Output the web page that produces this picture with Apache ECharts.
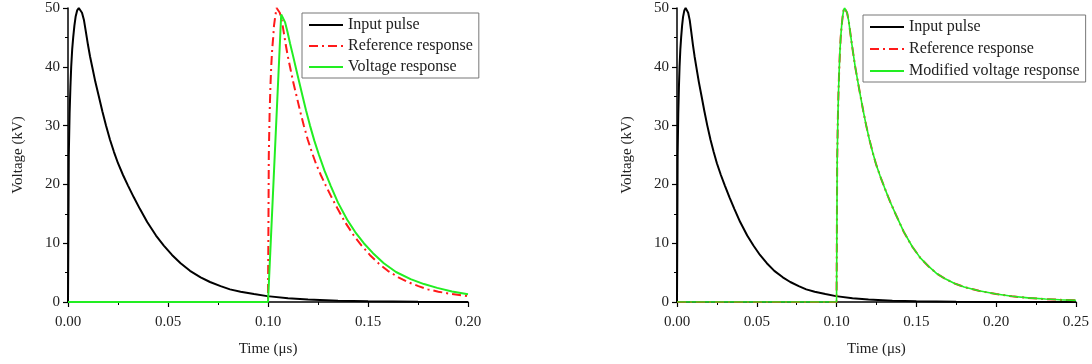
<!DOCTYPE html>
<html>
<head>
<meta charset="utf-8">
<script src="https://cdn.jsdelivr.net/npm/echarts@6/dist/echarts.min.js"></script>
<style>
  html, body { margin: 0; padding: 0; background: #fff; }
  #chart { width: 1092px; height: 364px; }
</style>
</head>
<body>
<div id="chart"></div>
<script>
// input pulse (both panels), time in us, voltage in kV
const inputT = [0, 0.0002, 0.0004, 0.0008, 0.0012, 0.0016, 0.0021, 0.0026, 0.0032, 0.0038, 0.0046, 0.0054, 0.0062, 0.0070, 0.0080, 0.0090, 0.0100, 0.0110, 0.0121, 0.0137, 0.0154, 0.0172, 0.0190, 0.0210, 0.0230, 0.0250, 0.0275, 0.0300, 0.0329, 0.0360, 0.0396, 0.0440, 0.0479, 0.0520, 0.0563, 0.0610, 0.0663, 0.0710, 0.0763, 0.0810, 0.0863, 0.0930, 0.0996, 0.110, 0.120, 0.135, 0.150, 0.175, 0.200, 0.225, 0.250];
const inputV = [0, 12, 25, 32, 36.5, 40, 43, 45, 47, 48.5, 49.6, 50, 49.8, 49.2, 47.9, 45.8, 43.7, 41.8, 40, 37.4, 35, 32.4, 30, 27.6, 25.5, 23.6, 21.6, 19.8, 17.8, 15.8, 13.6, 11.3, 9.6, 8.0, 6.6, 5.3, 4.2, 3.4, 2.7, 2.15, 1.75, 1.35, 1.0, 0.63, 0.41, 0.21, 0.11, 0.04, 0.015, 0.005, 0];

// left panel: reference response
const refT = [0, 0.1, 0.1002, 0.1004, 0.1008, 0.1012, 0.1016, 0.1021, 0.1026, 0.1030, 0.1036, 0.1043, 0.1051, 0.1059, 0.1069, 0.1079, 0.1089, 0.1099, 0.1110, 0.1126, 0.1143, 0.1161, 0.1179, 0.1199, 0.1219, 0.1239, 0.1264, 0.1289, 0.1318, 0.1349, 0.1385, 0.1429, 0.1468, 0.1509, 0.1552, 0.1599, 0.1652, 0.1699, 0.1752, 0.1799, 0.1852, 0.1919, 0.2];
const refV = [0, 0, 12, 25, 32, 36.5, 40, 43, 45, 47, 48.5, 50, 49.8, 49.2, 47.9, 45.8, 43.7, 41.8, 40, 37.4, 35, 32.4, 30, 27.6, 25.5, 23.6, 21.6, 19.8, 17.8, 15.8, 13.6, 11.3, 9.6, 8.0, 6.6, 5.3, 4.2, 3.4, 2.7, 2.15, 1.75, 1.35, 1.0];

// left panel: voltage response
const voltT = [0, 0.1, 0.1066, 0.1075, 0.1085, 0.1097, 0.1110, 0.1125, 0.1140, 0.1156, 0.1173, 0.1190, 0.1210, 0.1232, 0.1255, 0.1283, 0.1313, 0.1350, 0.1396, 0.1436, 0.1479, 0.1525, 0.1579, 0.1640, 0.1713, 0.1780, 0.1846, 0.1920, 0.2];
const voltV = [0, 0, 48.9, 48.6, 47.6, 46, 44, 41.9, 39.7, 37.4, 35, 32.6, 30, 27.4, 25, 22.3, 19.8, 16.9, 14.0, 11.9, 10.0, 8.3, 6.6, 5.1, 3.9, 3.05, 2.4, 1.8, 1.3];

// right panel: reference and modified voltage response (overlapping)
const modT = [0, 0.1, 0.1002, 0.1004, 0.1008, 0.1012, 0.1016, 0.1021, 0.1026, 0.1032, 0.1038, 0.1044, 0.1050, 0.1058, 0.1066, 0.1076, 0.1086, 0.1096, 0.1106, 0.1117, 0.1134, 0.1150, 0.1168, 0.1186, 0.1206, 0.1226, 0.1248, 0.1272, 0.1300, 0.1335, 0.1371, 0.1420, 0.1475, 0.1525, 0.1579, 0.1630, 0.1684, 0.1740, 0.1800, 0.1892, 0.2000, 0.2100, 0.2200, 0.2309, 0.2400, 0.2500];
const modV = [0, 0, 12, 24, 31, 35.5, 39, 42.5, 45, 47, 48.5, 49.6, 50, 49.8, 49.2, 47.8, 45.8, 43.8, 42, 40, 37.4, 35, 32.4, 30, 27.6, 25.5, 23.4, 21.5, 19.5, 17.1, 14.9, 12.0, 9.4, 7.5, 6.0, 4.8, 3.9, 3.15, 2.55, 1.9, 1.35, 0.97, 0.7, 0.5, 0.37, 0.28];

const xRangeLeft = [0, 0.2];
const xRangeRight = [0, 0.25];

const pairs = (t, v) => t.map((x, i) => [x, v[i]]);
const upTo = (t, v, tMax) => pairs(t, v).filter(p => p[0] <= tMax);

const font = 'Liberation Serif';
const txt = '#222';

const chart = echarts.init(document.getElementById('chart'));

const xAxisBase = (gridIndex, range) => ({
  type: 'value',
  gridIndex: gridIndex,
  min: range[0],
  max: range[1],
  interval: 0.05,
  name: 'Time (\u03bcs)',
  nameLocation: 'middle',
  nameGap: 40,
  nameTextStyle: { fontFamily: font, fontSize: 15, color: txt },
  axisLine: { onZero: false, lineStyle: { color: '#000', width: 1.5 } },
  axisTick: { inside: false, length: 5, lineStyle: { color: '#000', width: 1.2 } },
  minorTick: { show: true, splitNumber: 2, length: 3, lineStyle: { color: '#000', width: 1 } },
  axisLabel: {
    margin: 13,
    fontFamily: font, fontSize: 15, color: txt,
    formatter: v => v.toFixed(2)
  },
  splitLine: { show: false }
});

const yAxisBase = (gridIndex) => ({
  type: 'value',
  gridIndex: gridIndex,
  min: 0,
  max: 50,
  interval: 10,
  name: 'Voltage (kV)',
  nameLocation: 'middle',
  nameGap: 42,
  nameTextStyle: { fontFamily: font, fontSize: 15, color: txt },
  axisLine: { show: true, lineStyle: { color: '#000', width: 1.5 } },
  axisTick: { show: true, inside: false, length: 5, lineStyle: { color: '#000', width: 1.2 } },
  minorTick: { show: true, splitNumber: 2, length: 3, lineStyle: { color: '#000', width: 1 } },
  axisLabel: { margin: 8, fontFamily: font, fontSize: 15, color: txt },
  splitLine: { show: false }
});

const lineSeries = (name, data, idx, color, type, width) => ({
  name: name,
  type: 'line',
  xAxisIndex: idx,
  yAxisIndex: idx,
  data: data,
  showSymbol: false,
  symbol: 'none',
  animation: false,
  lineStyle: { color: color, width: width, type: type },
  itemStyle: { color: color }
});

const legendBase = (left, top, names, gap) => ({
  orient: 'vertical',
  left: left,
  top: top,
  data: names,
  itemWidth: 34,
  itemHeight: 14,
  itemGap: gap,
  padding: [4, 6, 3, 6],
  borderColor: '#777',
  borderWidth: 1,
  itemStyle: { opacity: 0 },
  textStyle: { fontFamily: font, fontSize: 16, lineHeight: 14, color: txt }
});

chart.setOption({
  animation: false,
  grid: [
    { left: 68, top: 8, width: 400, height: 294 },
    { left: 677, top: 8, width: 400, height: 294 }
  ],
  xAxis: [xAxisBase(0, xRangeLeft), xAxisBase(1, xRangeRight)],
  yAxis: [yAxisBase(0), yAxisBase(1)],
  legend: [
    legendBase(302, 13, ['Input pulse', 'Reference response', 'Voltage response'], 5),
    legendBase(863, 15, ['Input pulse', 'Reference response', 'Modified voltage response'], 6)
  ],
  series: [
    lineSeries('Input pulse', upTo(inputT, inputV, xRangeLeft[1]), 0, '#000', 'solid', 2),
    lineSeries('Reference response', pairs(refT, refV), 0, '#ff1a1a', [9, 4, 2, 4], 2),
    lineSeries('Voltage response', pairs(voltT, voltV), 0, '#22ee22', 'solid', 2),
    lineSeries('Input pulse', pairs(inputT, inputV), 1, '#000', 'solid', 2),
    lineSeries('Reference response', pairs(modT, modV), 1, '#ff1a1a', [9, 4, 2, 4], 2),
    lineSeries('Modified voltage response', pairs(modT, modV), 1, '#22ee22', 'solid', 1.6)
  ]
});
</script>
</body>
</html>
